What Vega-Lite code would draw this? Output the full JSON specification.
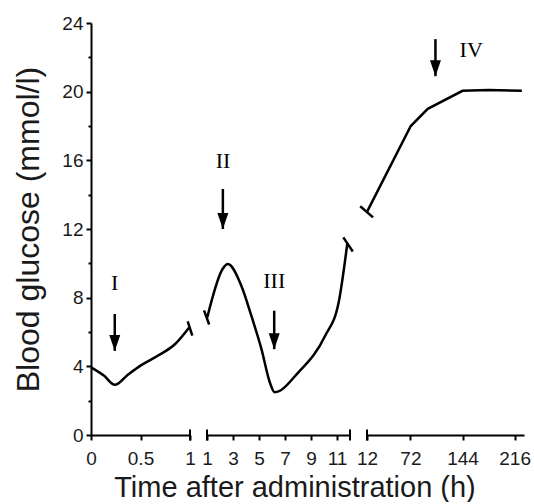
{
  "$schema": "https://vega.github.io/schema/vega-lite/v6.json",
  "background": "white",
  "padding": {"left": 12, "top": 14, "right": 0, "bottom": 0},
  "spacing": 17,
  "bounds": "flush",
  "config": {
    "view": {"stroke": null},
    "axis": {
      "domainColor": "black", "domainWidth": 2, "tickColor": "black", "tickWidth": 2, "tickSize": 5,
      "labelFont": "Liberation Sans", "labelFontSize": 19, "labelColor": "#1a1a1a",
      "titleFont": "Liberation Sans", "titleColor": "#1a1a1a", "titleFontWeight": "normal",
      "grid": false, "labelFlush": false, "labelOverlap": false
    }
  },
  "datasets": {
    "glucose": [
      {"seg": 1, "time": 0, "glucose": 3.94},
      {"seg": 1, "time": 0.13, "glucose": 3.46},
      {"seg": 1, "time": 0.24, "glucose": 2.92},
      {"seg": 1, "time": 0.37, "glucose": 3.5},
      {"seg": 1, "time": 0.5, "glucose": 4.04},
      {"seg": 1, "time": 0.67, "glucose": 4.6},
      {"seg": 1, "time": 0.85, "glucose": 5.3},
      {"seg": 1, "time": 0.99, "glucose": 6.25},
      {"seg": 2, "time": 1.02, "glucose": 6.85},
      {"seg": 2, "time": 2.2, "glucose": 9.67},
      {"seg": 2, "time": 2.6, "glucose": 9.96},
      {"seg": 2, "time": 3.64, "glucose": 8.7},
      {"seg": 2, "time": 4.41, "glucose": 6.95},
      {"seg": 2, "time": 5.19, "glucose": 5.0},
      {"seg": 2, "time": 5.83, "glucose": 3.07},
      {"seg": 2, "time": 6.2, "glucose": 2.49},
      {"seg": 2, "time": 8.03, "glucose": 3.65},
      {"seg": 2, "time": 10.09, "glucose": 5.78},
      {"seg": 2, "time": 11.13, "glucose": 7.73},
      {"seg": 2, "time": 11.8, "glucose": 11.2},
      {"seg": 3, "time": 12, "glucose": 13.0},
      {"seg": 3, "time": 72.5, "glucose": 18.0},
      {"seg": 3, "time": 96, "glucose": 19.0},
      {"seg": 3, "time": 144, "glucose": 20.05},
      {"seg": 3, "time": 180, "glucose": 20.1},
      {"seg": 3, "time": 226, "glucose": 20.05}
    ],
    "arrows": [
      {"seg": 1, "time": 0.24, "glucose": 7.05, "tip": 4.9, "label": "I", "labelX": 0.24, "labelY": 8.85},
      {"seg": 2, "time": 2.22, "glucose": 14.33, "tip": 12.0, "label": "II", "labelX": 2.24, "labelY": 15.96},
      {"seg": 2, "time": 6.17, "glucose": 7.24, "tip": 5.0, "label": "III", "labelX": 6.17, "labelY": 8.99},
      {"seg": 3, "time": 106.6, "glucose": 23.06, "tip": 20.9, "label": "IV", "labelX": 156, "labelY": 22.4}
    ],
    "axisbreaks": [
      {"seg": 1, "time": 1, "glucose": 0},
      {"seg": 2, "time": 1, "glucose": 0},
      {"seg": 2, "time": 12, "glucose": 0},
      {"seg": 3, "time": 12, "glucose": 0}
    ],
    "curvebreaks": [
      {"seg": 1, "pos": "end", "time": 1.0, "glucose": 6.2},
      {"seg": 2, "pos": "start", "time": 0.97, "glucose": 6.85},
      {"seg": 2, "pos": "end", "time": 11.85, "glucose": 11.1},
      {"seg": 3, "pos": "start", "time": 11.5, "glucose": 13.0}
    ]
  },
  "hconcat": [
    {
      "width": 99,
      "height": 412,
      "layer": [
        {
          "data": {"name": "glucose"},
          "transform": [{"filter": "datum.seg === 1"}],
          "mark": {"type": "line", "color": "black", "strokeWidth": 2.5, "interpolate": "monotone"},
          "encoding": {
            "x": {"field": "time", "type": "quantitative", "scale": {"domain": [0, 1], "nice": false, "zero": false},
              "axis": {"values": [0, 0.5, 1], "tickCount": 30, "labelExpr": "'' + datum.value", "labelPadding": 9, "labelOverlap": false, "labelFontSize": 19, "title": null}},
            "y": {"field": "glucose", "type": "quantitative", "scale": {"domain": [0, 24], "nice": false},
              "axis": {"values": [0, 2, 4, 6, 8, 10, 12, 14, 16, 18, 20, 22, 24], "tickCount": 30,
                "labelExpr": "datum.value % 4 === 0 ? datum.label : ''",
                "tickSize": {"condition": {"test": "datum.value % 4 === 0", "value": 5}, "value": 3},
                "labelOverlap": false,
                "labelPadding": 3, "title": "Blood glucose (mmol/l)", "titleFontSize": 32, "titlePadding": 16}}
          }
        },
        {
          "data": {"name": "arrows"},
          "transform": [{"filter": "datum.seg === 1"}],
          "mark": {"type": "rule", "color": "black", "strokeWidth": 2.5},
          "encoding": {
            "x": {"field": "time", "type": "quantitative"},
            "y": {"field": "glucose", "type": "quantitative"},
            "y2": {"field": "tip"}
          }
        },
        {
          "data": {"name": "arrows"},
          "transform": [{"filter": "datum.seg === 1"}],
          "mark": {"type": "point", "shape": "M0,0L-1,-2.9L1,-2.9Z", "size": 121, "filled": true, "fill": "black", "strokeWidth": 0, "opacity": 1},
          "encoding": {
            "x": {"field": "time", "type": "quantitative"},
            "y": {"field": "tip", "type": "quantitative"}
          }
        },
        {
          "data": {"name": "arrows"},
          "transform": [{"filter": "datum.seg === 1"}],
          "mark": {"type": "text", "font": "Liberation Serif", "fontSize": 22, "color": "black", "baseline": "middle", "align": "center"},
          "encoding": {
            "x": {"field": "labelX", "type": "quantitative"},
            "y": {"field": "labelY", "type": "quantitative"},
            "text": {"field": "label"}
          }
        },
        {
          "data": {"name": "axisbreaks"},
          "transform": [{"filter": "datum.seg === 1"}],
          "mark": {"type": "point", "shape": "M0,-1L0,1", "size": 121, "filled": false, "stroke": "black", "strokeWidth": 2, "opacity": 1},
          "encoding": {
            "x": {"field": "time", "type": "quantitative"},
            "y": {"field": "glucose", "type": "quantitative"}
          }
        },
        {
          "data": {"name": "curvebreaks"},
          "transform": [{"filter": "datum.seg === 1"}],
          "mark": {"type": "point", "shape": "M0,-1L0,1", "size": 225, "angle": -18, "filled": false, "stroke": "black", "strokeWidth": 2.5, "opacity": 1},
          "encoding": {
            "x": {"field": "time", "type": "quantitative"},
            "y": {"field": "glucose", "type": "quantitative"}
          }
        }
      ]
    },
    {
      "width": 143,
      "height": 412,
      "layer": [
        {
          "data": {"name": "glucose"},
          "transform": [{"filter": "datum.seg === 2"}],
          "mark": {"type": "line", "color": "black", "strokeWidth": 2.5, "interpolate": "monotone"},
          "encoding": {
            "x": {"field": "time", "type": "quantitative", "scale": {"domain": [1, 12], "nice": false, "zero": false},
              "axis": {"values": [1, 3, 5, 7, 9, 11], "tickCount": 30, "labelExpr": "'' + datum.value", "labelPadding": 9, "labelOverlap": false, "labelFontSize": 19,
                "title": "Time after administration (h)", "titleFontSize": 29, "titleX": 87.5, "titleY": 38, "titleAlign": "center", "titleBaseline": "top"}},
            "y": {"field": "glucose", "type": "quantitative", "scale": {"domain": [0, 24], "nice": false}, "axis": null}
          }
        },
        {
          "data": {"name": "arrows"},
          "transform": [{"filter": "datum.seg === 2"}],
          "mark": {"type": "rule", "color": "black", "strokeWidth": 2.5},
          "encoding": {
            "x": {"field": "time", "type": "quantitative"},
            "y": {"field": "glucose", "type": "quantitative", "axis": null},
            "y2": {"field": "tip"}
          }
        },
        {
          "data": {"name": "arrows"},
          "transform": [{"filter": "datum.seg === 2"}],
          "mark": {"type": "point", "shape": "M0,0L-1,-2.9L1,-2.9Z", "size": 121, "filled": true, "fill": "black", "strokeWidth": 0, "opacity": 1},
          "encoding": {
            "x": {"field": "time", "type": "quantitative"},
            "y": {"field": "tip", "type": "quantitative", "axis": null}
          }
        },
        {
          "data": {"name": "arrows"},
          "transform": [{"filter": "datum.seg === 2"}],
          "mark": {"type": "text", "font": "Liberation Serif", "fontSize": 22, "color": "black", "baseline": "middle", "align": "center"},
          "encoding": {
            "x": {"field": "labelX", "type": "quantitative"},
            "y": {"field": "labelY", "type": "quantitative", "axis": null},
            "text": {"field": "label"}
          }
        },
        {
          "data": {"name": "axisbreaks"},
          "transform": [{"filter": "datum.seg === 2"}],
          "mark": {"type": "point", "shape": "M0,-1L0,1", "size": 121, "filled": false, "stroke": "black", "strokeWidth": 2, "opacity": 1},
          "encoding": {
            "x": {"field": "time", "type": "quantitative"},
            "y": {"field": "glucose", "type": "quantitative", "axis": null}
          }
        },
        {
          "data": {"name": "curvebreaks"},
          "transform": [{"filter": "datum.seg === 2 && datum.pos === 'start'"}],
          "mark": {"type": "point", "shape": "M0,-1L0,1", "size": 225, "angle": -20, "filled": false, "stroke": "black", "strokeWidth": 2.5, "opacity": 1},
          "encoding": {
            "x": {"field": "time", "type": "quantitative"},
            "y": {"field": "glucose", "type": "quantitative", "axis": null}
          }
        },
        {
          "data": {"name": "curvebreaks"},
          "transform": [{"filter": "datum.seg === 2 && datum.pos === 'end'"}],
          "mark": {"type": "point", "shape": "M0,-1L0,1", "size": 289, "angle": -34, "filled": false, "stroke": "black", "strokeWidth": 2.5, "opacity": 1},
          "encoding": {
            "x": {"field": "time", "type": "quantitative"},
            "y": {"field": "glucose", "type": "quantitative", "axis": null}
          }
        }
      ]
    },
    {
      "width": 157,
      "height": 412,
      "layer": [
        {
          "data": {"name": "glucose"},
          "transform": [{"filter": "datum.seg === 3"}],
          "mark": {"type": "line", "color": "black", "strokeWidth": 2.5},
          "encoding": {
            "x": {"field": "time", "type": "quantitative", "scale": {"domain": [12, 229], "nice": false, "zero": false},
              "axis": {"values": [12, 72, 144, 216], "tickCount": 30, "labelExpr": "'' + datum.value", "labelPadding": 9, "labelOverlap": false, "labelFontSize": 19, "title": null}},
            "y": {"field": "glucose", "type": "quantitative", "scale": {"domain": [0, 24], "nice": false}, "axis": null}
          }
        },
        {
          "data": {"name": "arrows"},
          "transform": [{"filter": "datum.seg === 3"}],
          "mark": {"type": "rule", "color": "black", "strokeWidth": 2.5},
          "encoding": {
            "x": {"field": "time", "type": "quantitative"},
            "y": {"field": "glucose", "type": "quantitative", "axis": null},
            "y2": {"field": "tip"}
          }
        },
        {
          "data": {"name": "arrows"},
          "transform": [{"filter": "datum.seg === 3"}],
          "mark": {"type": "point", "shape": "M0,0L-1,-2.9L1,-2.9Z", "size": 121, "filled": true, "fill": "black", "strokeWidth": 0, "opacity": 1},
          "encoding": {
            "x": {"field": "time", "type": "quantitative"},
            "y": {"field": "tip", "type": "quantitative", "axis": null}
          }
        },
        {
          "data": {"name": "arrows"},
          "transform": [{"filter": "datum.seg === 3"}],
          "mark": {"type": "text", "font": "Liberation Serif", "fontSize": 22, "color": "black", "baseline": "middle", "align": "center"},
          "encoding": {
            "x": {"field": "labelX", "type": "quantitative"},
            "y": {"field": "labelY", "type": "quantitative", "axis": null},
            "text": {"field": "label"}
          }
        },
        {
          "data": {"name": "axisbreaks"},
          "transform": [{"filter": "datum.seg === 3"}],
          "mark": {"type": "point", "shape": "M0,-1L0,1", "size": 121, "filled": false, "stroke": "black", "strokeWidth": 2, "opacity": 1},
          "encoding": {
            "x": {"field": "time", "type": "quantitative"},
            "y": {"field": "glucose", "type": "quantitative", "axis": null}
          }
        },
        {
          "data": {"name": "curvebreaks"},
          "transform": [{"filter": "datum.seg === 3"}],
          "mark": {"type": "point", "shape": "M0,-1L0,1", "size": 289, "angle": -49, "filled": false, "stroke": "black", "strokeWidth": 2.5, "opacity": 1},
          "encoding": {
            "x": {"field": "time", "type": "quantitative"},
            "y": {"field": "glucose", "type": "quantitative", "axis": null}
          }
        }
      ]
    }
  ]
}
